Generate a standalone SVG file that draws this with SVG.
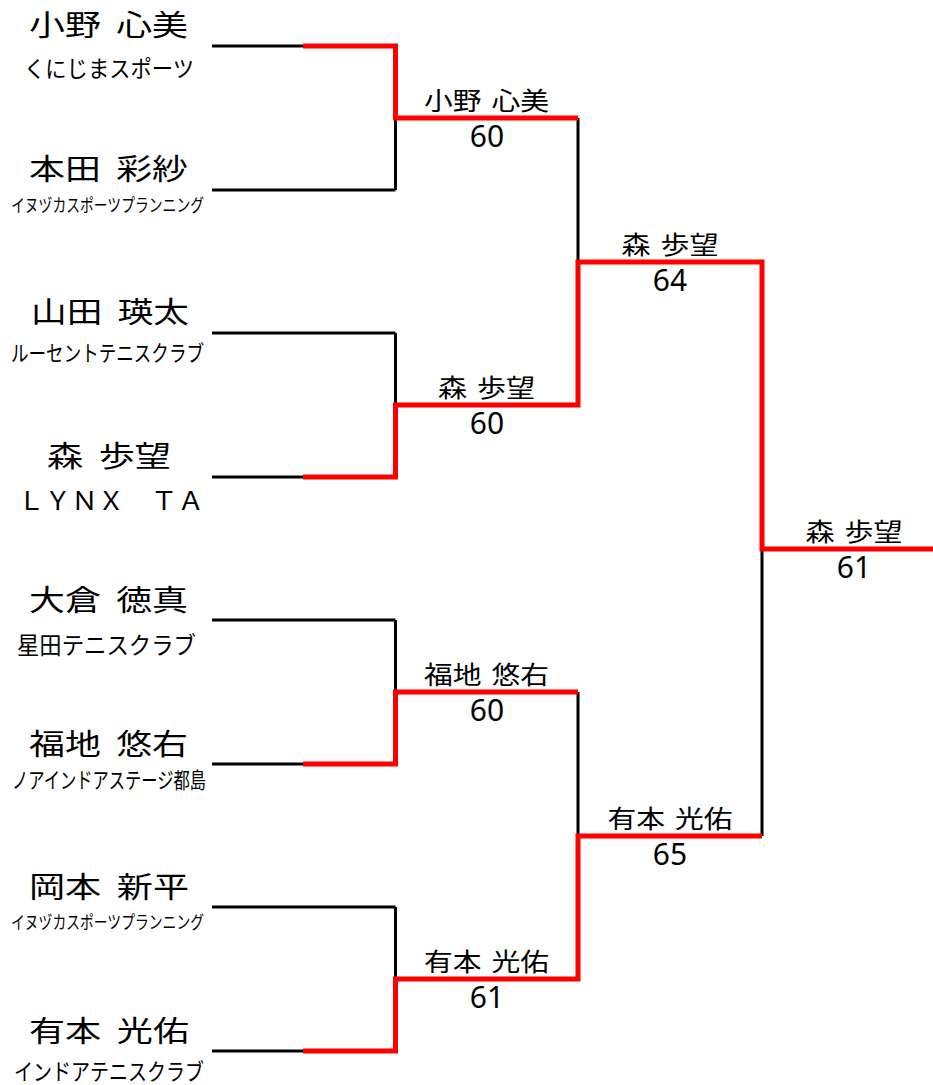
<svg xmlns="http://www.w3.org/2000/svg" width="933" height="1085" viewBox="0 0 933 1085">
<style>
.bg{fill:#ffffff}
.blk{fill:none;stroke:#000000;stroke-width:3;stroke-linejoin:miter;stroke-linecap:butt}
.red{fill:none;stroke:#ff0000;stroke-width:5;stroke-linejoin:miter;stroke-linecap:butt}
text{fill:#000000;text-anchor:middle}
.nm{font-family:"Noto Sans CJK JP","Noto Sans CJK SC",sans-serif;font-size:29px;word-spacing:6px}
.af{font-family:"Noto Sans CJK JP","Noto Sans CJK SC",sans-serif}
.wn{font-family:"Noto Sans CJK JP","Noto Sans CJK SC",sans-serif;font-size:25px;word-spacing:3px}
.sc{font-family:"Noto Sans","Open Sans",sans-serif;font-size:30px}
</style>
<rect class="bg" x="0" y="0" width="933" height="1085"/>
<g id="connectors">
  <path class="blk" d="M212,46 H395.5 M212,190 H395.5 M212,333 H395.5 M212,477 H395.5 M212,620 H395.5 M212,764 H395.5 M212,907 H395.5 M212,1051 H395.5"/>
  <path class="blk" d="M395.5,46 V190 M395.5,333 V477 M395.5,620 V764 M395.5,907 V1051"/>
  <path class="blk" d="M578,118 V405 M578,692 V979 M762,262 V836"/>
  <path class="red" d="M303,46 H395.5 V118 H578"/>
  <path class="red" d="M303,477 H395.5 V405 H578 V262 H762 V549 H933"/>
  <path class="red" d="M303,764 H395.5 V692 H578"/>
  <path class="red" d="M303,1051 H395.5 V979 H578 V836 H762"/>
</g>
<g id="player1">
  <text class="nm" x="108.5" y="36" textLength="159" lengthAdjust="spacingAndGlyphs">小野 心美</text>
  <text class="af" x="109" y="77" font-size="23" textLength="170" lengthAdjust="spacingAndGlyphs">くにじまスポーツ</text>
</g>
<g id="player2">
  <text class="nm" x="108.5" y="180" textLength="159" lengthAdjust="spacingAndGlyphs">本田 彩紗</text>
  <text class="af" x="107.5" y="212" font-size="18" textLength="193" lengthAdjust="spacingAndGlyphs">イヌヅカスポーツプランニング</text>
</g>
<g id="player3">
  <text class="nm" x="110" y="323" textLength="158" lengthAdjust="spacingAndGlyphs">山田 瑛太</text>
  <text class="af" x="107.5" y="361" font-size="22" textLength="193" lengthAdjust="spacingAndGlyphs">ルーセントテニスクラブ</text>
</g>
<g id="player4">
  <text class="nm" x="109" y="467" textLength="124" lengthAdjust="spacingAndGlyphs">森 歩望</text>
  <text class="af" x="111" y="510" font-size="26" textLength="186" lengthAdjust="spacingAndGlyphs">ＬＹＮＸ　ＴＡ</text>
</g>
<g id="player5">
  <text class="nm" x="108.5" y="611" textLength="159" lengthAdjust="spacingAndGlyphs">大倉 徳真</text>
  <text class="af" x="106.5" y="654" font-size="24" textLength="179" lengthAdjust="spacingAndGlyphs">星田テニスクラブ</text>
</g>
<g id="player6">
  <text class="nm" x="108.5" y="755" textLength="159" lengthAdjust="spacingAndGlyphs">福地 悠右</text>
  <text class="af" x="109" y="788" font-size="22" textLength="194" lengthAdjust="spacingAndGlyphs">ノアインドアステージ都島</text>
</g>
<g id="player7">
  <text class="nm" x="109" y="898" textLength="160" lengthAdjust="spacingAndGlyphs">岡本 新平</text>
  <text class="af" x="107.5" y="929" font-size="18" textLength="193" lengthAdjust="spacingAndGlyphs">イヌヅカスポーツプランニング</text>
</g>
<g id="player8">
  <text class="nm" x="109" y="1042" textLength="160" lengthAdjust="spacingAndGlyphs">有本 光佑</text>
  <text class="af" x="109" y="1080" font-size="23" textLength="190" lengthAdjust="spacingAndGlyphs">インドアテニスクラブ</text>
</g>
<g id="r1m1">
  <text class="wn" x="486.5" y="110" textLength="125" lengthAdjust="spacingAndGlyphs">小野 心美</text>
  <text class="sc" x="487" y="147">60</text>
</g>
<g id="r1m2">
  <text class="wn" x="486.5" y="397" textLength="97" lengthAdjust="spacingAndGlyphs">森 歩望</text>
  <text class="sc" x="487" y="434">60</text>
</g>
<g id="r1m3">
  <text class="wn" x="486.5" y="684" textLength="125" lengthAdjust="spacingAndGlyphs">福地 悠右</text>
  <text class="sc" x="487" y="721">60</text>
</g>
<g id="r1m4">
  <text class="wn" x="486.5" y="971" textLength="125" lengthAdjust="spacingAndGlyphs">有本 光佑</text>
  <text class="sc" x="487" y="1008">61</text>
</g>
<g id="r2m1">
  <text class="wn" x="670" y="254" textLength="97" lengthAdjust="spacingAndGlyphs">森 歩望</text>
  <text class="sc" x="670" y="291">64</text>
</g>
<g id="r2m2">
  <text class="wn" x="670" y="828" textLength="125" lengthAdjust="spacingAndGlyphs">有本 光佑</text>
  <text class="sc" x="670" y="865">65</text>
</g>
<g id="final">
  <text class="wn" x="854" y="541" textLength="97" lengthAdjust="spacingAndGlyphs">森 歩望</text>
  <text class="sc" x="854" y="578">61</text>
</g>
</svg>
